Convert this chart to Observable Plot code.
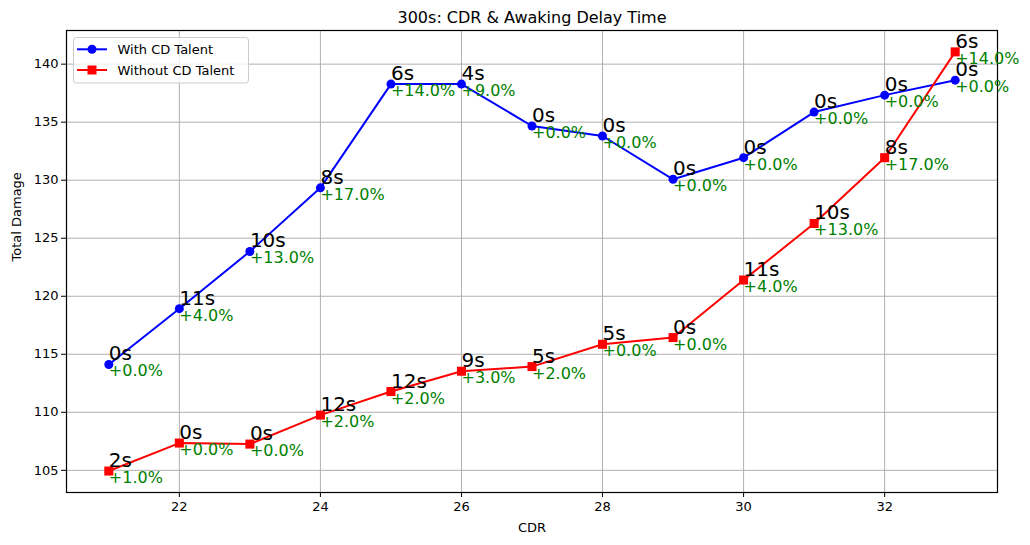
<!DOCTYPE html>
<html>
<head>
<meta charset="utf-8">
<script src="https://cdn.jsdelivr.net/npm/d3@7"></script>
<script src="https://cdn.jsdelivr.net/npm/@observablehq/plot@0.6"></script>
<style>
  html, body { margin: 0; padding: 0; background: white; }
  #chart { width: 1030px; height: 545px; }
</style>
</head>
<body>
<div id="chart"></div>
<script>
const title = "300s: CDR & Awaking Delay Time";
const xLabel = "CDR";
const yLabel = "Total Damage";
const seriesNames = ["With CD Talent", "Without CD Talent"];

const cdr = [21, 22, 23, 24, 25, 26, 27, 28, 29, 30, 31, 32, 33];
const withCD = [114.12, 118.93, 123.86, 129.34, 138.28, 138.28, 134.67, 133.81, 130.08, 131.94, 135.87, 137.33, 138.62];
const withoutCD = [104.94, 107.35, 107.26, 109.76, 111.79, 113.54, 113.94, 115.86, 116.44, 121.4, 126.27, 131.94, 141.06];
const withDelay = [0, 11, 10, 8, 6, 4, 0, 0, 0, 0, 0, 0, 0];
const withGain = [0, 4, 13, 17, 14, 9, 0, 0, 0, 0, 0, 0, 0];
const withoutDelay = [2, 0, 0, 12, 12, 9, 5, 5, 0, 11, 10, 8, 6];
const withoutGain = [1, 0, 0, 2, 2, 3, 2, 0, 0, 4, 13, 17, 14];

const xTicks = [22, 24, 26, 28, 30, 32];
const yTicks = [105, 110, 115, 120, 125, 130, 135, 140];

const rowsWith = cdr.map((c, i) => ({x: c, y: withCD[i], delay: withDelay[i] + "s", gain: "+" + withGain[i].toFixed(1) + "%"}));
const rowsWithout = cdr.map((c, i) => ({x: c, y: withoutCD[i], delay: withoutDelay[i] + "s", gain: "+" + withoutGain[i].toFixed(1) + "%"}));

const BLUE = "#0000ff", RED = "#ff0000", GREEN = "#008000";
const FONT = "DejaVu Sans";

const chart = Plot.plot({
  width: 1030,
  height: 545,
  marginLeft: 66,
  marginRight: 33,
  marginTop: 30,
  marginBottom: 53,
  style: {fontFamily: FONT, fontSize: "13px", background: "white", color: "black", overflow: "visible"},
  x: {domain: [20.4, 33.6], label: null},
  y: {domain: [103.09, 142.9], label: null},
  marks: [
    Plot.gridX(xTicks, {stroke: "#b0b0b0", strokeOpacity: 1, strokeWidth: 1}),
    Plot.gridY(yTicks, {stroke: "#b0b0b0", strokeOpacity: 1, strokeWidth: 1}),
    Plot.axisX({ticks: xTicks, tickSize: 5, tickPadding: 4, fontSize: 13, label: null}),
    Plot.axisY({ticks: yTicks, tickSize: 5, tickPadding: 3, fontSize: 13, label: null}),
    Plot.frame({stroke: "black", strokeWidth: 1.2}),
    Plot.line(rowsWith, {x: "x", y: "y", stroke: BLUE, strokeWidth: 2}),
    Plot.dot(rowsWith, {x: "x", y: "y", fill: BLUE, r: 4.5, symbol: "circle"}),
    Plot.line(rowsWithout, {x: "x", y: "y", stroke: RED, strokeWidth: 2}),
    Plot.dot(rowsWithout, {x: "x", y: "y", fill: RED, r: 5.1, symbol: "square"}),
    Plot.text(rowsWith, {x: "x", y: "y", text: "delay", textAnchor: "start", lineAnchor: "bottom", dy: -4, fontSize: 20, fill: "black"}),
    Plot.text(rowsWith, {x: "x", y: "y", text: "gain", textAnchor: "start", lineAnchor: "bottom", dy: 12, fontSize: 16, fill: GREEN}),
    Plot.text(rowsWithout, {x: "x", y: "y", text: "delay", textAnchor: "start", lineAnchor: "bottom", dy: -4, fontSize: 20, fill: "black"}),
    Plot.text(rowsWithout, {x: "x", y: "y", text: "gain", textAnchor: "start", lineAnchor: "bottom", dy: 12, fontSize: 16, fill: GREEN}),
    Plot.text([title], {frameAnchor: "top", lineAnchor: "middle", dy: -13, fontSize: 16, fill: "black"}),
    Plot.text([xLabel], {frameAnchor: "bottom", lineAnchor: "middle", dy: 35, fontSize: 13, fill: "black"}),
    Plot.text([yLabel], {frameAnchor: "left", lineAnchor: "middle", dx: -50, rotate: -90, fontSize: 13, fill: "black"})
  ]
});

document.getElementById("chart").appendChild(chart);

// Legend (matplotlib style) drawn into the same SVG
const svg = d3.select(chart);
const lg = svg.append("g").attr("font-family", FONT).attr("font-size", 13).attr("text-anchor", "start");
lg.append("rect").attr("x", 73.5).attr("y", 37.5).attr("width", 175).attr("height", 45.5)
  .attr("rx", 3).attr("fill", "white").attr("fill-opacity", 0.8).attr("stroke", "#cccccc");
const entries = [{name: seriesNames[0], color: BLUE, sym: d3.symbolCircle, size: Math.PI * 4.5 * 4.5},
                 {name: seriesNames[1], color: RED, sym: d3.symbolSquare, size: 81}];
entries.forEach((e, i) => {
  const cy = 49.3 + i * 20.7;
  lg.append("line").attr("x1", 77).attr("x2", 107).attr("y1", cy).attr("y2", cy).attr("stroke", e.color).attr("stroke-width", 2);
  lg.append("path").attr("d", d3.symbol(e.sym, e.size)()).attr("transform", `translate(92,${cy})`).attr("fill", e.color);
  lg.append("text").attr("x", 117.5).attr("y", cy).attr("dy", "0.35em").attr("text-anchor", "start").attr("fill", "black").text(e.name);
});
</script>
</body>
</html>
